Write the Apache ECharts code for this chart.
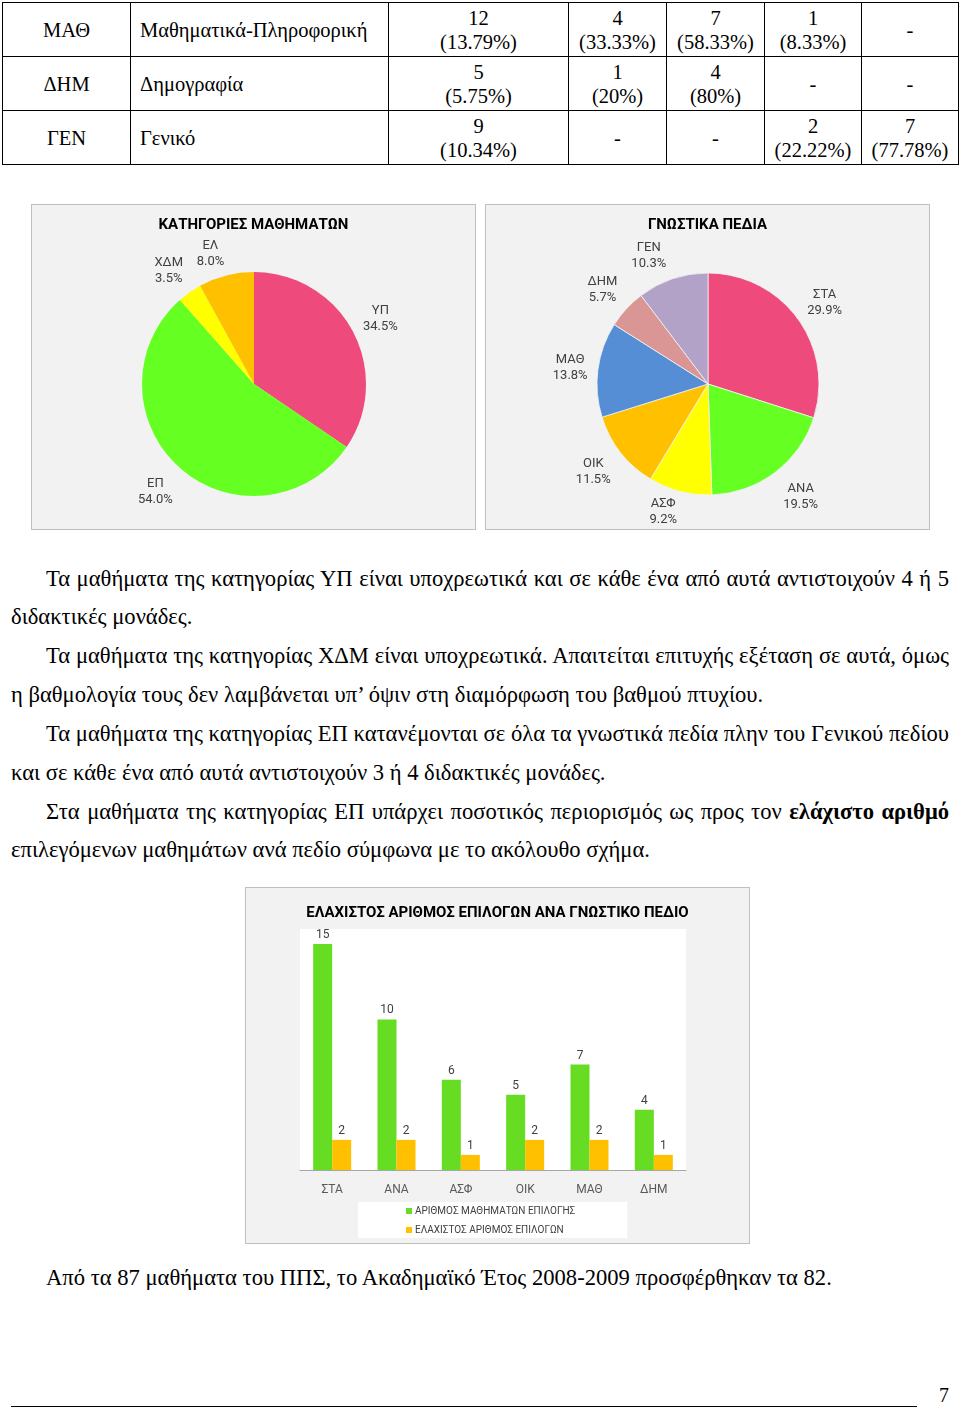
<!DOCTYPE html>
<html>
<head>
<meta charset="utf-8">
<script src="https://cdn.jsdelivr.net/npm/echarts@6/dist/echarts.min.js"></script>
<style>
  html, body { margin:0; padding:0; background:#fff; }
  body { width:960px; height:1411px; position:relative; overflow:hidden; font-family:"Liberation Serif","Times New Roman",serif; color:#000; }
  #tbl { position:absolute; left:2px; top:2px; border-collapse:collapse; font-size:20.5px; }
  #tbl td { border:1.5px solid #000; height:53px; padding:0; text-align:center; vertical-align:middle; line-height:24px; white-space:nowrap; }
  #tbl td.name { text-align:left; padding-left:9px; }
  .chart { position:absolute; background:#f2f2f2; outline:1px solid #bfbfbf; }
  .ln { position:absolute; font-size:22.6px; line-height:26px; white-space:nowrap; }
  .j { text-align:justify; text-align-last:justify; }
</style>
</head>
<body>
<table id="tbl"></table>

<div id="pieCat" class="chart" style="left:32px;top:205px;width:443px;height:324px;"></div>
<div id="pieField" class="chart" style="left:486px;top:205px;width:443px;height:324px;"></div>

<div class="ln j" style="left:46px;top:566px;width:903px;">Τα μαθήματα της κατηγορίας ΥΠ είναι υποχρεωτικά και σε κάθε ένα από αυτά αντιστοιχούν 4 ή 5</div>
<div class="ln" style="left:11px;top:604px;">διδακτικές μονάδες.</div>
<div class="ln j" style="left:46px;top:643px;width:903px;">Τα μαθήματα της κατηγορίας ΧΔΜ είναι υποχρεωτικά. Απαιτείται επιτυχής εξέταση σε αυτά, όμως</div>
<div class="ln" style="left:11px;top:682px;">η βαθμολογία τους δεν λαμβάνεται υπ’ όψιν στη διαμόρφωση του βαθμού πτυχίου.</div>
<div class="ln j" style="left:46px;top:721px;width:903px;">Τα μαθήματα της κατηγορίας ΕΠ κατανέμονται σε όλα τα γνωστικά πεδία πλην του Γενικού πεδίου</div>
<div class="ln" style="left:11px;top:760px;">και σε κάθε ένα από αυτά αντιστοιχούν 3 ή 4 διδακτικές μονάδες.</div>
<div class="ln j" style="left:46px;top:799px;width:903px;">Στα μαθήματα της κατηγορίας ΕΠ υπάρχει ποσοτικός περιορισμός ως προς τον <b>ελάχιστο αριθμό</b></div>
<div class="ln" style="left:11px;top:837px;">επιλεγόμενων μαθημάτων ανά πεδίο σύμφωνα με το ακόλουθο σχήμα.</div>

<div id="bars" class="chart" style="left:246px;top:888px;width:503px;height:355px;"></div>

<div class="ln" style="left:46px;top:1265px;">Από τα 87 μαθήματα του ΠΠΣ, το Ακαδημαϊκό Έτος 2008-2009 προσφέρθηκαν τα 82.</div>

<div style="position:absolute;left:11px;top:1406px;width:906px;height:1px;background:#000;"></div>
<div class="ln" style="left:939px;top:1382px;font-size:20px;">7</div>

<script>
// ---------- table data ----------
const tableCodes = ['ΜΑΘ', 'ΔΗΜ', 'ΓΕΝ'];
const tableNames = ['Μαθηματικά-Πληροφορική', 'Δημογραφία', 'Γενικό'];
const tableTotals = [['12', '13.79%'], ['5', '5.75%'], ['9', '10.34%']];
const tableCol1 = [['4', '33.33%'], ['1', '20%'], null];
const tableCol2 = [['7', '58.33%'], ['4', '80%'], null];
const tableCol3 = [['1', '8.33%'], null, ['2', '22.22%']];
const tableCol4 = [null, null, ['7', '77.78%']];
const colWidths = [128, 258, 180, 98, 98, 97, 97];

// ---------- pie data ----------
const catNames = ['ΥΠ', 'ΕΠ', 'ΧΔΜ', 'ΕΛ'];
const catPercents = [34.5, 54.0, 3.5, 8.0];
const catColors = ['#ee4a7c', '#66ff22', '#ffff00', '#ffc000'];

const fieldNames = ['ΣΤΑ', 'ΑΝΑ', 'ΑΣΦ', 'ΟΙΚ', 'ΜΑΘ', 'ΔΗΜ', 'ΓΕΝ'];
const fieldPercents = [29.9, 19.5, 9.2, 11.5, 13.8, 5.7, 10.3];
const fieldColors = ['#ee4a7c', '#66ff22', '#ffff00', '#ffc000', '#558ed5', '#d99694', '#b3a2c7'];

// ---------- bar data ----------
const barCategories = ['ΣΤΑ', 'ΑΝΑ', 'ΑΣΦ', 'ΟΙΚ', 'ΜΑΘ', 'ΔΗΜ'];
const electiveCourses = [15, 10, 6, 5, 7, 4];
const minElectives = [2, 2, 1, 2, 2, 1];
const barSeriesNames = ['ΑΡΙΘΜΟΣ ΜΑΘΗΜΑΤΩΝ ΕΠΙΛΟΓΗΣ', 'ΕΛΑΧΙΣΤΟΣ ΑΡΙΘΜΟΣ ΕΠΙΛΟΓΩΝ'];

// label nudges (style only, pixels) to mimic the spreadsheet's label placement
const catLabelNudge = [[0, 2], [-4, 0], [-3, 4], [-8, 8]];
const fieldLabelNudge = [[2, 2], [7, 0], [-9, -10], [-3, 0], [3, 2], [-1, 2], [-14, 6]];

// build table
(function () {
  const tbl = document.getElementById('tbl');
  const cg = document.createElement('colgroup');
  colWidths.forEach(w => { const c = document.createElement('col'); c.style.width = w + 'px'; cg.appendChild(c); });
  tbl.appendChild(cg);
  const cell = v => v ? v[0] + '<br>(' + v[1] + ')' : '-';
  for (let i = 0; i < tableCodes.length; i++) {
    const tr = document.createElement('tr');
    tr.innerHTML = '<td>' + tableCodes[i] + '</td><td class="name">' + tableNames[i] + '</td>' +
      '<td>' + cell(tableTotals[i]) + '</td><td>' + cell(tableCol1[i]) + '</td><td>' + cell(tableCol2[i]) +
      '</td><td>' + cell(tableCol3[i]) + '</td><td>' + cell(tableCol4[i]) + '</td>';
    tbl.appendChild(tr);
  }
})();

const sansFont = 'Roboto, "Open Sans", sans-serif';

function makeCenterLabel(nudge) {
  return function (p) {
    const pts = p.labelLinePoints;
    if (!pts) return {};
    const n = nudge[p.dataIndex] || [0, 0];
    return { x: pts[1][0] + n[0], y: pts[1][1] + n[1], align: 'center', verticalAlign: 'middle' };
  };
}

function pieOption(title, names, values, colors, radius, border, nudge) {
  return {
    animation: false,
    backgroundColor: '#f2f2f2',
    title: {
      text: title, left: 'center', top: 8,
      textStyle: { fontFamily: sansFont, fontSize: 15, fontWeight: 'bold', color: '#000' }
    },
    series: [{
      type: 'pie',
      center: [222, 179],
      radius: radius,
      startAngle: 90,
      clockwise: true,
      avoidLabelOverlap: false,
      data: names.map((n, i) => ({ name: n, value: values[i], itemStyle: { color: colors[i] } })),
      itemStyle: { borderColor: '#f4f4f4', borderWidth: border },
      label: {
        show: true, position: 'outside',
        formatter: p => p.name + '\n' + p.value.toFixed(1) + '%',
        fontFamily: sansFont, fontSize: 13, lineHeight: 16, color: '#404040'
      },
      labelLine: { show: true, length: 31, length2: 0, lineStyle: { opacity: 0 } },
      labelLayout: makeCenterLabel(nudge),
      emphasis: { disabled: true }
    }]
  };
}

echarts.init(document.getElementById('pieCat'), null, { renderer: 'canvas' })
  .setOption(pieOption('ΚΑΤΗΓΟΡΙΕΣ ΜΑΘΗΜΑΤΩΝ', catNames, catPercents, catColors, 112, 0, catLabelNudge));
echarts.init(document.getElementById('pieField'), null, { renderer: 'canvas' })
  .setOption(pieOption('ΓΝΩΣΤΙΚΑ ΠΕΔΙΑ', fieldNames, fieldPercents, fieldColors, 111, 0.8, fieldLabelNudge));

echarts.init(document.getElementById('bars'), null, { renderer: 'canvas' }).setOption({
  animation: false,
  backgroundColor: '#f2f2f2',
  title: {
    text: 'ΕΛΑΧΙΣΤΟΣ ΑΡΙΘΜΟΣ ΕΠΙΛΟΓΩΝ ΑΝΑ ΓΝΩΣΤΙΚΟ ΠΕΔΙΟ', left: 'center', top: 13,
    textStyle: { fontFamily: sansFont, fontSize: 15, fontWeight: 'bold', color: '#000' }
  },
  grid: { left: 54, top: 41, width: 386, height: 241, show: true, backgroundColor: '#ffffff', borderWidth: 0 },
  legend: {
    orient: 'vertical', left: 112, top: 314,
    backgroundColor: '#ffffff', padding: [4, 52, 3, 48],
    itemWidth: 6, itemHeight: 6, itemGap: 9, icon: 'rect',
    textStyle: { fontFamily: sansFont, fontSize: 10, color: '#404040', padding: [0, 0, 0, -2] },
    data: barSeriesNames
  },
  xAxis: {
    type: 'category', data: barCategories,
    axisLine: { lineStyle: { color: '#a6a6a6' } },
    axisTick: { show: false },
    axisLabel: { fontFamily: sansFont, fontSize: 12, color: '#595959', margin: 14 }
  },
  yAxis: { type: 'value', min: 0, max: 16, show: false, splitLine: { show: false } },
  series: [
    {
      name: barSeriesNames[0], type: 'bar', data: electiveCourses, barWidth: 19, barGap: '0%',
      itemStyle: { color: '#66dd22' },
      label: { show: true, position: 'top', distance: 3, fontFamily: sansFont, fontSize: 12, color: '#404040' }
    },
    {
      name: barSeriesNames[1], type: 'bar', data: minElectives, barWidth: 19,
      itemStyle: { color: '#ffc000' },
      label: { show: true, position: 'top', distance: 3, fontFamily: sansFont, fontSize: 12, color: '#404040' }
    }
  ]
});
</script>
</body>
</html>
